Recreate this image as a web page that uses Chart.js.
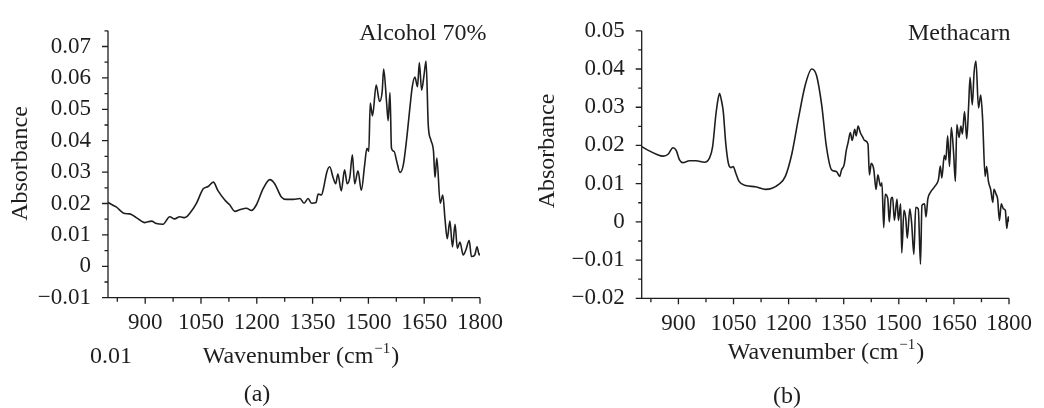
<!doctype html>
<html>
	<head>
		<title>FTIR spectra | Alcohol 70% / Methacarn</title>
		<script src="https://cdn.jsdelivr.net/npm/chart.js@4/dist/chart.umd.min.js"></script>
		<style>
			html, body {
				margin: 0;
				padding: 0;
				background: #fff;
			}
			#wrapper {
				position: relative;
				width: 1044px;
				height: 408px;
			}
			#wrapper canvas {
				position: absolute;
				top: 0;
			}
		</style>
	</head>
	<body>
		<div id="wrapper">
			<canvas id="canvas_a" width="522" height="408" style="left:0"></canvas>
			<canvas id="canvas_b" width="522" height="408" style="left:522px"></canvas>
		</div>

		<script>
			// tick values shared by both panels
			var xTicks = [900, 1050, 1200, 1350, 1500, 1650, 1800];
			var xMinorTicks = [825, 975, 1125, 1275, 1425, 1575, 1725];

			// (a) Alcohol 70%
			var alcoholWave = [
				800, 822, 845, 858, 876, 899, 917, 930, 948, 966,
				979, 993, 1006, 1024, 1038, 1056, 1069, 1083, 1096, 1114,
				1127, 1141, 1154, 1172, 1186, 1199, 1217, 1235, 1248, 1266,
				1280, 1298, 1316, 1327, 1338, 1347, 1359, 1365, 1374, 1380,
				1388, 1396, 1405, 1412, 1418, 1427, 1436, 1443, 1450, 1457,
				1463, 1472, 1481, 1490, 1496, 1501, 1505, 1511, 1521, 1530,
				1537, 1541, 1549, 1553, 1558, 1562, 1569, 1576, 1585, 1594,
				1603, 1612, 1618, 1625, 1632, 1637, 1643, 1650, 1655, 1661,
				1668, 1675, 1679, 1684, 1693, 1700, 1706, 1712, 1719, 1726,
				1733, 1739, 1746, 1755, 1762, 1771, 1777, 1786, 1792, 1798,
				1800
			];
			var alcoholAbs = [
				0.0203, 0.0189, 0.0168, 0.0167, 0.0155, 0.0139, 0.0144, 0.0136, 0.0134, 0.0158,
				0.0151, 0.0158, 0.0155, 0.0175, 0.0201, 0.0247, 0.0254, 0.0268, 0.0240, 0.0211,
				0.0196, 0.0175, 0.0180, 0.0185, 0.0178, 0.0196, 0.0247, 0.0276, 0.0263, 0.0221,
				0.0213, 0.0213, 0.0216, 0.0201, 0.0216, 0.0201, 0.0203, 0.0230, 0.0227, 0.0252,
				0.0299, 0.0317, 0.0283, 0.0263, 0.0294, 0.0240, 0.0307, 0.0263, 0.0283, 0.0355,
				0.0263, 0.0304, 0.0242, 0.0324, 0.0376, 0.0366, 0.0520, 0.0479, 0.0577, 0.0525,
				0.0556, 0.0628, 0.0520, 0.0464, 0.0553, 0.0376, 0.0366, 0.0335, 0.0299, 0.0324,
				0.0407, 0.0510, 0.0572, 0.0603, 0.0572, 0.0649, 0.0561, 0.0613, 0.0654, 0.0448,
				0.0402, 0.0366, 0.0283, 0.0345, 0.0201, 0.0227, 0.0149, 0.0088, 0.0144, 0.0062,
				0.0134, 0.0057, 0.0077, 0.0036, 0.0052, 0.0082, 0.0031, 0.0036, 0.0062, 0.0036,
				0.0041
			];
			var alcoholYTicks = [-0.01, 0, 0.01, 0.02, 0.03, 0.04, 0.05, 0.06, 0.07];
			var alcoholYMinor = [-0.005, 0.005, 0.015, 0.025, 0.035, 0.045, 0.055, 0.065, 0.075];

			// (b) Methacarn
			var methacarnWave = [
				800, 818, 840, 858, 872, 885, 894, 903, 912, 930,
				948, 971, 984, 993, 1002, 1008, 1012, 1017, 1022, 1029,
				1036, 1043, 1049, 1056, 1065, 1083, 1110, 1137, 1155, 1173,
				1191, 1209, 1227, 1245, 1263, 1276, 1290, 1303, 1317, 1330,
				1339, 1344, 1351, 1357, 1362, 1368, 1373, 1380, 1384, 1389,
				1395, 1402, 1407, 1416, 1420, 1425, 1432, 1438, 1443, 1450,
				1454, 1459, 1463, 1470, 1474, 1479, 1483, 1488, 1495, 1499,
				1505, 1508, 1514, 1519, 1523, 1530, 1535, 1541, 1546, 1553,
				1559, 1563, 1570, 1574, 1579, 1586, 1599, 1608, 1613, 1617,
				1624, 1628, 1633, 1638, 1643, 1649, 1654, 1658, 1664, 1669,
				1673, 1679, 1685, 1690, 1694, 1700, 1705, 1710, 1717, 1723,
				1728, 1735, 1739, 1744, 1750, 1756, 1759, 1765, 1769, 1774,
				1779, 1785, 1790, 1794, 1798, 1800
			];
			var methacarnAbs = [
				0.0197, 0.0187, 0.0177, 0.0172, 0.0177, 0.0194, 0.0187, 0.0162, 0.0155, 0.0160,
				0.0160, 0.0156, 0.0166, 0.0196, 0.0281, 0.0322, 0.0336, 0.0318, 0.0289, 0.0204,
				0.0153, 0.0142, 0.0145, 0.0128, 0.0106, 0.0095, 0.0092, 0.0085, 0.0088, 0.0098,
				0.0119, 0.0179, 0.0272, 0.0357, 0.0400, 0.0383, 0.0306, 0.0196, 0.0136, 0.0132,
				0.0119, 0.0136, 0.0149, 0.0187, 0.0208, 0.0234, 0.0213, 0.0242, 0.0225, 0.0251,
				0.0234, 0.0221, 0.0213, 0.0204, 0.0123, 0.0153, 0.0136, 0.0085, 0.0123, 0.0094,
				0.0102, -0.0015, 0.0072, 0.0060, 0.0000, 0.0060, 0.0064, 0.0004, 0.0060, 0.0004,
				0.0047, -0.0081, 0.0030, 0.0009, -0.0043, 0.0034, -0.0004, -0.0085, 0.0038, 0.0034,
				-0.0111, 0.0043, 0.0047, 0.0013, 0.0060, 0.0077, 0.0094, 0.0111, 0.0146, 0.0115,
				0.0174, 0.0162, 0.0225, 0.0145, 0.0247, 0.0183, 0.0106, 0.0255, 0.0221, 0.0251,
				0.0230, 0.0289, 0.0217, 0.0302, 0.0378, 0.0306, 0.0391, 0.0421, 0.0298, 0.0332,
				0.0272, 0.0119, 0.0145, 0.0106, 0.0085, 0.0051, 0.0085, 0.0072, 0.0060, 0.0004,
				0.0047, 0.0034, 0.0030, -0.0017, 0.0013, 0.0000
			];
			var methacarnYTicks = [-0.02, -0.01, 0, 0.01, 0.02, 0.03, 0.04, 0.05];
			var methacarnYMinor = [-0.015, -0.005, 0.005, 0.015, 0.025, 0.035, 0.045];

			var INK = '#1e1e1e';
			var SERIF = '"Liberation Serif", "Times New Roman", serif';

			function fmtY(v) {
				return v === 0 ? '0' : v.toFixed(2).replace('-', '\u2212');
			}

			// axes, tick marks and the extra texts of each panel
			var decor = {
				id: 'decor',
				afterDraw: function(chart, args, o) {
					var ctx = chart.ctx, a = chart.chartArea;
					var x = chart.scales.x, y = chart.scales.y;
					ctx.save();
					ctx.strokeStyle = INK;
					ctx.lineWidth = 1.3;
					ctx.beginPath();
					ctx.moveTo(a.left - 5, a.bottom); ctx.lineTo(a.right, a.bottom);
					ctx.moveTo(a.left, a.top); ctx.lineTo(a.left, a.bottom);
					xTicks.forEach(function(v) {
						var p = x.getPixelForValue(v);
						ctx.moveTo(p, a.bottom); ctx.lineTo(p, a.bottom + 6);
					});
					xMinorTicks.forEach(function(v) {
						var p = x.getPixelForValue(v);
						ctx.moveTo(p, a.bottom); ctx.lineTo(p, a.bottom + 4);
					});
					o.yTicks.forEach(function(v) {
						var p = y.getPixelForValue(v);
						ctx.moveTo(a.left - 6, p); ctx.lineTo(a.left, p);
					});
					o.yMinor.forEach(function(v) {
						var p = y.getPixelForValue(v);
						ctx.moveTo(a.left - 3.5, p); ctx.lineTo(a.left, p);
					});
					ctx.stroke();

					ctx.fillStyle = INK;
					ctx.font = '24px ' + SERIF;
					ctx.textBaseline = 'alphabetic';

					// sample name, top right
					ctx.textAlign = 'right';
					ctx.fillText(o.name, o.nameX, o.nameY);

					// y title
					ctx.save();
					ctx.translate(o.yTitleX, o.yTitleY);
					ctx.rotate(-Math.PI / 2);
					ctx.textAlign = 'center';
					ctx.textBaseline = 'middle';
					ctx.fillText('Absorbance', 0, 0);
					ctx.restore();

					// x title with superscript
					var main = 'Wavenumber (cm', sup = '\u22121', tail = ')';
					ctx.font = '24px ' + SERIF;
					var w1 = ctx.measureText(main).width, w3 = ctx.measureText(tail).width;
					ctx.font = '15px ' + SERIF;
					var w2 = ctx.measureText(sup).width;
					var tx = o.xTitleX - (w1 + w2 + w3 + 2) / 2;
					ctx.textAlign = 'left';
					ctx.font = '24px ' + SERIF;
					ctx.fillText(main, tx, o.xTitleY);
					ctx.font = '15px ' + SERIF;
					ctx.fillText(sup, tx + w1 + 1, o.xTitleY - 10);
					ctx.font = '24px ' + SERIF;
					ctx.fillText(tail, tx + w1 + w2 + 2, o.xTitleY);

					if (o.note) {
						ctx.fillText(o.note, o.noteX, o.xTitleY);
					}

					// panel letter
					ctx.textAlign = 'center';
					ctx.textBaseline = 'middle';
					ctx.fillText(o.panel, o.panelX, o.panelY);
					ctx.restore();
				}
			};

			function makeChart(id, wave, abs, cfg) {
				var points = wave.map(function(w, i) { return {x: w, y: abs[i]}; });
				var tickFont = {family: SERIF, size: 23};
				return new Chart(document.getElementById(id).getContext('2d'), {
					type: 'line',
					data: {
						datasets: [{
							data: points,
							borderColor: INK,
							borderWidth: 1.6,
							pointRadius: 0,
							cubicInterpolationMode: 'monotone',
							fill: false
						}]
					},
					options: {
						responsive: false,
						animation: false,
						layout: {padding: {left: 0, top: cfg.top, right: cfg.right, bottom: 0}},
						plugins: {
							legend: {display: false},
							tooltip: {enabled: false},
							decor: cfg.decor
						},
						scales: {
							x: {
								type: 'linear',
								min: 800,
								max: 1800,
								afterBuildTicks: function(s) { s.ticks = xTicks.map(function(v) { return {value: v}; }); },
								afterFit: function(s) { s.height = cfg.xHeight; },
								grid: {display: false, drawTicks: false},
								border: {display: false},
								ticks: {
									font: tickFont, color: INK, padding: cfg.xPad, maxRotation: 0, autoSkip: false,
									callback: function(v) { return String(v); }
								}
							},
							y: {
								min: cfg.yMin,
								max: cfg.yMax,
								afterBuildTicks: function(s) { s.ticks = cfg.decor.yTicks.map(function(v) { return {value: v}; }); },
								afterFit: function(s) { s.width = cfg.yWidth; },
								grid: {display: false, drawTicks: false},
								border: {display: false},
								ticks: {font: tickFont, color: INK, padding: 17, callback: fmtY}
							}
						}
					},
					plugins: [decor]
				});
			}

			window.onload = function() {
				makeChart('canvas_a', alcoholWave, alcoholAbs, {
					top: 22.7, right: 42, xHeight: 110.3, yWidth: 108, xPad: 11,
					yMin: -0.01, yMax: 0.075,
					decor: {
						yTicks: alcoholYTicks, yMinor: alcoholYMinor,
						name: 'Alcohol 70%', nameX: 486.5, nameY: 40,
						yTitleX: 20.8, yTitleY: 163.5,
						xTitleX: 301, xTitleY: 363,
						note: '0.01', noteX: 90,
						panel: '(a)', panelX: 257, panelY: 395
					}
				});
				makeChart('canvas_b', methacarnWave, methacarnAbs, {
					top: 25, right: 31.3, xHeight: 109.7, yWidth: 119.7, xPad: 12,
					yMin: -0.02, yMax: 0.05,
					decor: {
						yTicks: methacarnYTicks, yMinor: methacarnYMinor,
						name: 'Methacarn', nameX: 488.5, nameY: 39.5,
						yTitleX: 25.8, yTitleY: 151,
						xTitleX: 304, xTitleY: 358.5,
						note: '', noteX: 0,
						panel: '(b)', panelX: 265, panelY: 397
					}
				});
			};
		</script>
	</body>
</html>
